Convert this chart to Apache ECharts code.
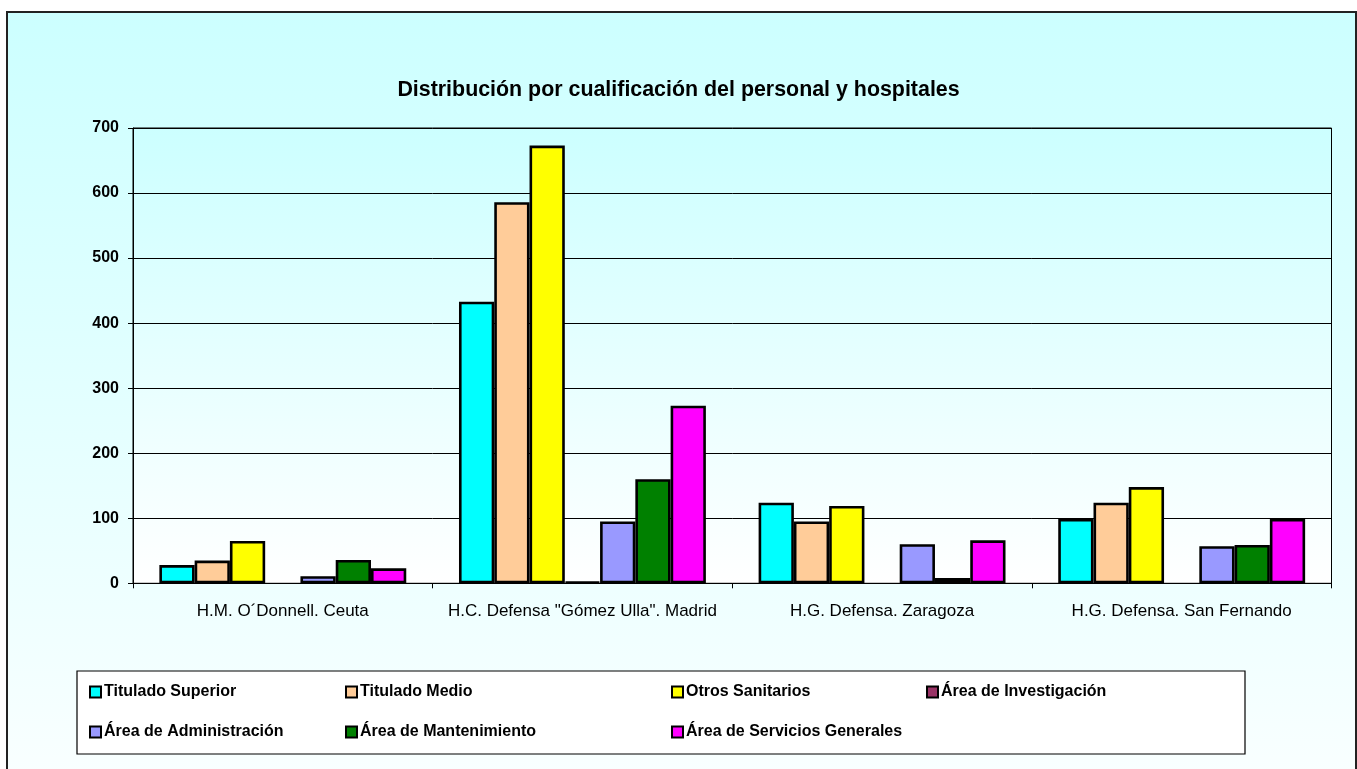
<!DOCTYPE html>
<html>
<head>
<meta charset="utf-8">
<script src="https://cdn.jsdelivr.net/npm/echarts@6/dist/echarts.min.js"></script>
<style>html,body{margin:0;padding:0;background:#fff;}#c{width:1357px;height:769px;}</style>
</head>
<body>
<div id="c"></div>
<script>
const categories = ['H.M. O´Donnell. Ceuta', 'H.C. Defensa "Gómez Ulla". Madrid', 'H.G. Defensa. Zaragoza', 'H.G. Defensa. San Fernando'];
const seriesNames = ['Titulado Superior', 'Titulado Medio', 'Otros Sanitarios', 'Área de Investigación', 'Área de Administración', 'Área de Mantenimiento', 'Área de Servicios Generales'];
const tituladoSuperior = [28, 433, 124, 99];
const tituladoMedio = [35, 586, 95, 124];
const otrosSanitarios = [65, 673, 119, 148];
const areaInvestigacion = [null, 2, null, null];
const areaAdministracion = [11, 95, 60, 57];
const areaMantenimiento = [36, 160, 8, 59];
const areaServiciosGenerales = [23, 273, 66, 99];
const yTicks = [0, 100, 200, 300, 400, 500, 600, 700];

const values = [tituladoSuperior, tituladoMedio, otrosSanitarios, areaInvestigacion, areaAdministracion, areaMantenimiento, areaServiciosGenerales];
const colors = ['#00FFFF', '#FFCC99', '#FFFF00', '#993366', '#9999FF', '#008000', '#FF00FF'];
const FONT = '"Liberation Sans", Arial, sans-serif';

const legendPos = [[89, 684], [345, 684], [671, 684], [926, 684], [89, 724], [345, 724], [671, 724]];

const chart = echarts.init(document.getElementById('c'), null, {renderer: 'canvas'});
chart.setOption({
  backgroundColor: '#ffffff',
  animation: false,
  graphic: [
    {type: 'rect', z: -10, shape: {x: 7, y: 12, width: 1349, height: 780},
     style: {fill: new echarts.graphic.LinearGradient(0, 0, 0, 1, [{offset: 0, color: '#CCFFFF'}, {offset: 1, color: '#FAFFFF'}]), stroke: '#222', lineWidth: 2}},
    {type: 'rect', z: -5, shape: {x: 77, y: 671, width: 1168, height: 83},
     style: {fill: '#ffffff', stroke: '#000', lineWidth: 1.2}}
  ],
  title: {
    text: 'Distribución por cualificación del personal y hospitales',
    left: 'center', top: 74,
    textStyle: {fontFamily: FONT, fontWeight: 'bold', fontSize: 21.4, color: '#000', lineHeight: 22}
  },
  legend: seriesNames.map((n, i) => ({
    data: [n], left: legendPos[i][0], top: legendPos[i][1],
    itemWidth: 11, itemHeight: 11, padding: 0, icon: 'rect',
    textStyle: {fontFamily: FONT, fontWeight: 'bold', fontSize: 16, color: '#000', padding: [0, 0, 0, -2]}
  })),
  grid: {
    left: 133, right: 25.5, top: 128, bottom: 185.7,
    show: true, borderColor: '#000', borderWidth: 1,
    backgroundColor: new echarts.graphic.LinearGradient(0, 0, 0, 1, [{offset: 0, color: '#CCFFFF'}, {offset: 1, color: '#FFFFFF'}])
  },
  xAxis: {
    type: 'category', data: categories,
    axisLine: {lineStyle: {color: '#000', width: 1}},
    axisTick: {show: true, length: 5, lineStyle: {color: '#000'}},
    axisLabel: {fontFamily: FONT, fontSize: 17, color: '#000', margin: 20, interval: 0}
  },
  yAxis: {
    type: 'value', min: yTicks[0], max: yTicks[yTicks.length - 1], interval: 100,
    axisLine: {show: true, lineStyle: {color: '#000', width: 1}},
    axisTick: {show: true, length: 5, lineStyle: {color: '#000'}},
    axisLabel: {fontFamily: FONT, fontSize: 16, fontWeight: 'bold', color: '#000', margin: 14},
    splitLine: {show: true, lineStyle: {color: '#000', width: 1}}
  },
  series: seriesNames.map((n, i) => ({
    name: n, type: 'bar', data: values[i],
    barGap: '0%', barCategoryGap: '17.6%',
    itemStyle: {color: colors[i], borderColor: '#000', borderWidth: 2.6}
  }))
});
</script>
</body>
</html>
